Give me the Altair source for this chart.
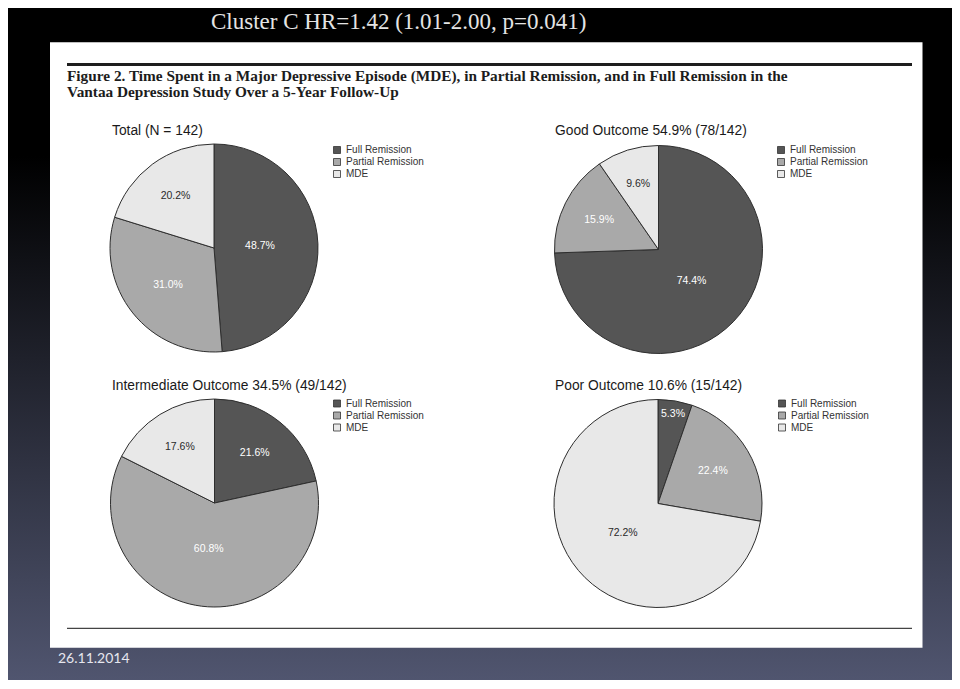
import altair as alt
import pandas as pd

# ---------------- data ----------------
categories = ["Full Remission", "Partial Remission", "MDE"]
pie_titles = [
    "Total (N = 142)",
    "Good Outcome 54.9% (78/142)",
    "Intermediate Outcome 34.5% (49/142)",
    "Poor Outcome 10.6% (15/142)",
]
total_pct = [48.7, 31.0, 20.2]
good_pct = [74.4, 15.9, 9.6]
intermediate_pct = [21.6, 60.8, 17.6]
poor_pct = [5.3, 22.4, 72.2]
slide_title = "Cluster C HR=1.42 (1.01-2.00, p=0.041)"
caption_lines = [
    "Figure 2. Time Spent in a Major Depressive Episode (MDE), in Partial Remission, and in Full Remission in the",
    "Vantaa Depression Study Over a 5-Year Follow-Up",
]
date_label = "26.11.2014"

# ---------------- layout / style ----------------
W, H = 944, 672
OFF = 8  # page margin
slice_colors = ["#555555", "#a9a9a9", "#e8e8e8"]
R = 104
centers = [(214, 248), (658.5, 249.5), (214.5, 503), (658, 503.5)]
legend_pos = [(332, 145), (776, 145), (332, 398.5), (777, 398.5)]
title_pos = [(112, 134.5), (555, 134.5), (112, 389.5), (555, 389.5)]

one = pd.DataFrame({"k": [0]})


def deco():
    return alt.Chart(one)


bg = deco().mark_rect(
    fill=alt.LinearGradient(
        gradient="linear",
        stops=[
            alt.GradientStop(color="#000000", offset=0),
            alt.GradientStop(color="#000000", offset=0.22),
            alt.GradientStop(color="#50556f", offset=1),
        ],
        x1=0, x2=0, y1=0, y2=1,
    )
).encode(x=alt.value(0), x2=alt.value(W), y=alt.value(0), y2=alt.value(H))

panel = deco().mark_rect(fill="#ffffff").encode(
    x=alt.value(50 - OFF), x2=alt.value(922.5 - OFF),
    y=alt.value(42.3 - OFF), y2=alt.value(647.7 - OFF),
)

top_rule = deco().mark_rule(color="#1e1e1e", strokeWidth=3).encode(
    x=alt.value(67 - OFF), x2=alt.value(912 - OFF), y=alt.value(64.5 - OFF)
)
bottom_rule = deco().mark_rule(color="#444444", strokeWidth=1.3).encode(
    x=alt.value(67 - OFF), x2=alt.value(912 - OFF), y=alt.value(628.3 - OFF)
)

title_txt = deco().mark_text(
    align="left", baseline="alphabetic", font="Liberation Serif", fontSize=23, color="#e4e4e4"
).encode(x=alt.value(211 - OFF), y=alt.value(29 - OFF), text=alt.value(slide_title))

cap1 = deco().mark_text(
    align="left", baseline="alphabetic", font="Liberation Serif", fontSize=15.3,
    fontWeight="bold", color="#1c1c1c"
).encode(x=alt.value(67 - OFF), y=alt.value(81 - OFF), text=alt.value(caption_lines[0]))
cap2 = deco().mark_text(
    align="left", baseline="alphabetic", font="Liberation Serif", fontSize=15.3,
    fontWeight="bold", color="#1c1c1c"
).encode(x=alt.value(67 - OFF), y=alt.value(96.5 - OFF), text=alt.value(caption_lines[1]))

date_txt = deco().mark_text(
    align="left", baseline="alphabetic", font="Lato", fontSize=14, color="#e6e6ee"
).encode(x=alt.value(58 - OFF), y=alt.value(663 - OFF), text=alt.value(date_label))


def pie_layer(i, values):
    df = pd.DataFrame({"category": categories, "pct": values, "rank": list(range(len(categories)))})
    cx, cy = centers[i][0] - OFF, centers[i][1] - OFF
    lx, ly = legend_pos[i][0] - OFF, legend_pos[i][1] - OFF
    tx, ty = title_pos[i][0] - OFF, title_pos[i][1] - OFF
    base = alt.Chart(df)
    arc = base.mark_arc(radius=R, stroke="#2e2e2e", strokeWidth=1).encode(
        x=alt.value(cx),
        y=alt.value(cy),
        theta=alt.Theta("pct:Q", stack="normalize"),
        order=alt.Order("rank:Q"),
        color=alt.Color(
            "category:N",
            scale=alt.Scale(domain=categories, range=slice_colors),
            legend=alt.Legend(
                title=None, orient="none", legendX=lx, legendY=ly,
                symbolType="square", symbolSize=49, symbolStrokeColor="#333333",
                symbolStrokeWidth=0.8, symbolOpacity=1, labelFont="Liberation Sans",
                labelFontSize=10, labelColor="#333333", labelOffset=4, padding=0, rowPadding=0,
            ),
        ),
    )
    labels = (
        base.transform_window(cum="sum(pct)", sort=[alt.SortField("rank", order="ascending")], frame=[None, 0])
        .transform_joinaggregate(tot="sum(pct)")
        .transform_calculate(
            half="PI*datum.pct/datum.tot",
            mid="2*PI*(datum.cum - datum.pct/2)/datum.tot",
            label="format(datum.pct, '.1f') + '%'",
        )
        .transform_calculate(lr=f"max(2*{R}*sin(datum.half)/(3*datum.half), 46, 15/sin(datum.half))")
        .mark_text(font="Liberation Sans", fontSize=10.5, align="center", baseline="middle")
        .encode(
            x=alt.value(cx),
            y=alt.value(cy),
            theta=alt.Theta("mid:Q", scale=None, stack=False),
            radius=alt.Radius("lr:Q", scale=None),
            text="label:N",
            color=alt.condition("datum.category == 'MDE'", alt.value("#2a2a2a"), alt.value("#ffffff")),
        )
    )
    ttl = alt.Chart(pd.DataFrame({"t": [pie_titles[i]]})).mark_text(
        align="left", baseline="alphabetic", font="Liberation Sans", fontSize=13.8, color="#1a1a1a"
    ).encode(x=alt.value(tx), y=alt.value(ty), text="t:N")
    return alt.layer(arc, labels, ttl)


pies = [
    pie_layer(0, total_pct),
    pie_layer(1, good_pct),
    pie_layer(2, intermediate_pct),
    pie_layer(3, poor_pct),
]

chart = (
    alt.layer(bg, panel, top_rule, bottom_rule, title_txt, cap1, cap2, date_txt, *pies)
    .resolve_scale(color="independent")
    .properties(
        width=W, height=H, padding=0,
        autosize=alt.AutoSizeParams(type="none"),
        background="#000000",
    )
    .configure_view(stroke=None)
)

chart.save("out.html", embed_options={"renderer": "svg", "actions": False})
